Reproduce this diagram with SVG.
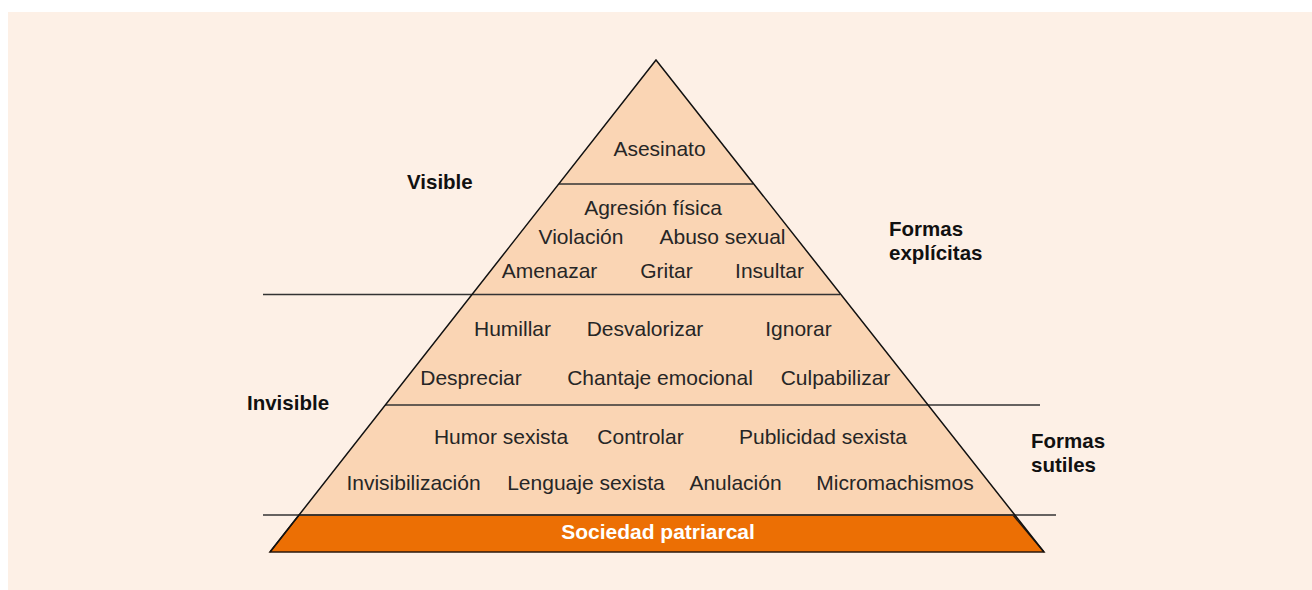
<svg xmlns="http://www.w3.org/2000/svg" width="1312" height="590" viewBox="0 0 1312 590">
  <style>
    .tier { fill: #fad5b4; stroke: none; }
    .edge { fill: none; stroke: #111; stroke-width: 1.5; }
    .rule { fill: none; stroke: #333; stroke-width: 1.5; }
    .item { font-family: "Liberation Sans", Arial, sans-serif; font-size: 21px; fill: #262626; text-anchor: middle; }
    .side { font-family: "Liberation Sans", Arial, sans-serif; font-size: 20.5px; font-weight: bold; fill: #111; }
    .base { font-family: "Liberation Sans", Arial, sans-serif; font-size: 21px; font-weight: bold; fill: #fff; text-anchor: middle; }
  </style>

  <!-- page background -->
  <rect x="8" y="12" width="1304" height="578" fill="#fdf0e6"/>

  <!-- pyramid body -->
  <g id="pyramid">
    <polygon class="tier" points="656,60 270,552 1044,552"/>
  </g>

  <!-- base tier -->
  <g id="tier-base">
    <polygon points="299,515 1013,515 1044,552 270,552" fill="#ec6f04" stroke="#2b1a0e" stroke-width="1.5"/>
    <text class="base" x="658" y="539">Sociedad patriarcal</text>
  </g>

  <!-- divider lines and outline -->
  <g id="connectors">
    <line class="rule" x1="559" y1="184" x2="753" y2="184"/>
    <line class="rule" x1="263" y1="294.5" x2="840" y2="294.5"/>
    <line class="rule" x1="385" y1="405" x2="1040" y2="405"/>
    <line class="rule" x1="263" y1="515" x2="1056" y2="515"/>
    <polyline class="edge" points="270,552 656,60 1044,552"/>
  </g>

  <g id="tier-1">
    <text class="item" x="659.5" y="156">Asesinato</text>
  </g>

  <g id="tier-2">
    <text class="item" x="653" y="215">Agresión física</text>
    <text class="item" x="581" y="244">Violación</text>
    <text class="item" x="722.5" y="244">Abuso sexual</text>
    <text class="item" x="549.5" y="278">Amenazar</text>
    <text class="item" x="666.5" y="278">Gritar</text>
    <text class="item" x="769.5" y="278">Insultar</text>
  </g>

  <g id="tier-3">
    <text class="item" x="512.5" y="336">Humillar</text>
    <text class="item" x="645" y="336">Desvalorizar</text>
    <text class="item" x="798.5" y="336">Ignorar</text>
    <text class="item" x="471" y="385">Despreciar</text>
    <text class="item" x="660" y="385">Chantaje emocional</text>
    <text class="item" x="835.5" y="385">Culpabilizar</text>
  </g>

  <g id="tier-4">
    <text class="item" x="501" y="444">Humor sexista</text>
    <text class="item" x="640.5" y="444">Controlar</text>
    <text class="item" x="823" y="444">Publicidad sexista</text>
    <text class="item" x="413.5" y="490">Invisibilización</text>
    <text class="item" x="586" y="490">Lenguaje sexista</text>
    <text class="item" x="735.5" y="490">Anulación</text>
    <text class="item" x="895" y="490">Micromachismos</text>
  </g>

  <!-- side labels -->
  <g id="label-visible">
    <text class="side" x="407" y="189">Visible</text>
  </g>
  <g id="label-invisible">
    <text class="side" x="247" y="410">Invisible</text>
  </g>
  <g id="label-explicitas">
    <text class="side" x="889" y="236">Formas</text>
    <text class="side" x="889" y="260">explícitas</text>
  </g>
  <g id="label-sutiles">
    <text class="side" x="1031" y="448">Formas</text>
    <text class="side" x="1031" y="472">sutiles</text>
  </g>
</svg>
